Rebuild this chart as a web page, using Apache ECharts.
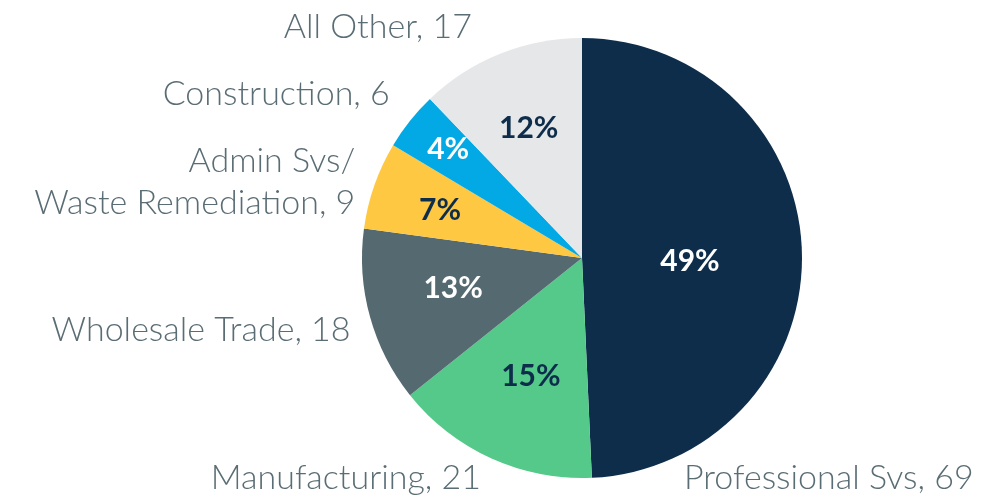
<!DOCTYPE html>
<html>
<head>
<meta charset="utf-8">
<script src="https://cdn.jsdelivr.net/npm/echarts@6/dist/echarts.min.js"></script>
<style>
html,body{margin:0;padding:0;background:#fff;}
#main{width:999px;height:500px;}
</style>
</head>
<body>
<div id="main"></div>
<script>
var names = ["Professional Svs", "Manufacturing", "Wholesale Trade", "Admin Svs/\nWaste Remediation", "Construction", "All Other"];
var values = [69, 21, 18, 9, 6, 17];
var colors = ["#0d2d4b", "#55c98a", "#546970", "#fec843", "#03a9e5", "#e6e7e9"];
var pctColors = ["#ffffff", "#0d2d4b", "#ffffff", "#0d2d4b", "#ffffff", "#0d2d4b"];

var myChart = echarts.init(document.getElementById('main'));

var fillData = [];
var pctData = [];
for (var i = 0; i < names.length; i++) {
	fillData.push({
		name: names[i],
		value: values[i],
		itemStyle: { color: colors[i] }
	});
	pctData.push({
		name: names[i],
		value: values[i],
		label: { color: pctColors[i] }
	});
}

// small nudges for the outer labels (dx, dy)
var outerNudge = [null, [14, 0], [12, 8], [12, 4], [8, -13], [-5, -6]];
// and for the percent labels inside the slices
var innerNudge = [[-35, 7], [8, -12], [9, -8], [-7, 0], [-22, -20], [0, 3]];

option = {
	backgroundColor: '#fff',
	series: [{
		name: 'fill',
		type: 'pie',
		center: [582, 258],
		radius: [0, 220],
		startAngle: 90,
		clockwise: true,
		silent: true,
		animation: false,
		label: {
			show: true,
			position: 'outside',
			formatter: '{b}, {c}',
			fontFamily: 'Lato',
			fontWeight: 300,
			fontSize: 34,
			lineHeight: 42,
			overflow: 'none',
			color: '#5a6d74'
		},
		labelLine: { show: false, length: 22, length2: 10 },
		labelLayout: function (params) {
			var i = params.dataIndex;
			// the big slice's label sits under the pie, like in the original
			if (i === 0) {
				return { x: 684, y: 478, align: 'left', verticalAlign: 'middle' };
			}
			return { dx: outerNudge[i][0], dy: outerNudge[i][1] };
		},
		data: fillData
	}, {
		name: 'pct',
		type: 'pie',
		center: [582, 258],
		radius: [60, 220],
		startAngle: 90,
		clockwise: true,
		silent: true,
		animation: false,
		percentPrecision: 0,
		itemStyle: { color: 'rgba(0,0,0,0)' },
		label: {
			show: true,
			position: 'inside',
			formatter: '{d}%',
			fontFamily: 'Lato',
			fontWeight: 'bold',
			fontSize: 30
		},
		labelLine: { show: false },
		labelLayout: function (params) {
			var n = innerNudge[params.dataIndex];
			return { dx: n[0], dy: n[1] };
		},
		data: pctData
	}]
};
myChart.setOption(option);
</script>
</body>
</html>
